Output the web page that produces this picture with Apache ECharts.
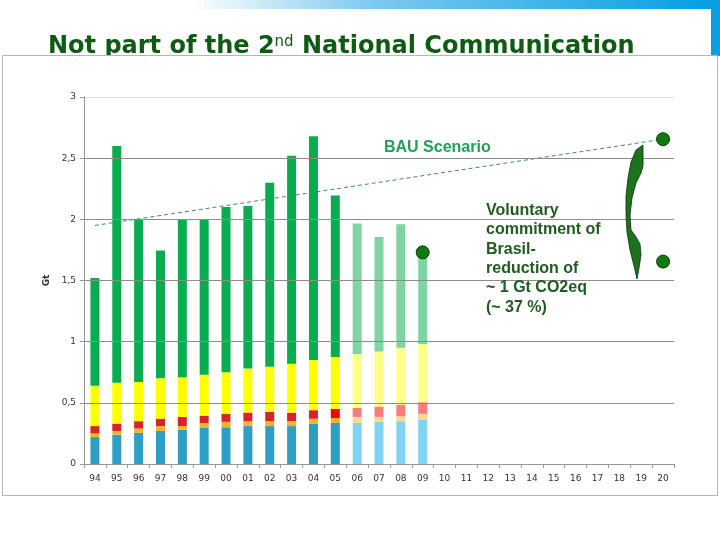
<!DOCTYPE html>
<html><head><meta charset="utf-8">
<script src="https://cdn.jsdelivr.net/npm/echarts@6/dist/echarts.min.js"></script>
<style>html,body{margin:0;padding:0;background:#fff}#c{width:720px;height:540px}</style>
</head><body><div id="c"></div>
<script>
const categories = ['94','95','96','97','98','99','00','01','02','03','04','05','06','07','08','09','10','11','12','13','14','15','16','17','18','19','20'];
const yTicks = [0, 0.5, 1, 1.5, 2, 2.5, 3];
// stacked segment heights (Gt), 1994-2009 (2006-2009 are estimates)
const blueSeg   = [0.22,0.24,0.255,0.27,0.28,0.295,0.30,0.31,0.31,0.31,0.33,0.335,0.335,0.345,0.35,0.36];
const orangeSeg = [0.03,0.03,0.035,0.04,0.03,0.04,0.045,0.04,0.04,0.04,0.04,0.04,0.05,0.04,0.04,0.05];
const redSeg    = [0.06,0.06,0.06,0.06,0.075,0.06,0.065,0.07,0.075,0.07,0.07,0.075,0.075,0.085,0.095,0.095];
const yellowSeg = [0.33,0.335,0.32,0.33,0.325,0.335,0.34,0.36,0.37,0.40,0.41,0.425,0.44,0.45,0.465,0.475];
const greenSeg  = [0.88,1.935,1.33,1.045,1.29,1.27,1.35,1.33,1.505,1.70,1.83,1.32,1.065,0.935,1.01,0.74];
const estimateFrom = '06';
// BAU scenario line endpoints
const bauLine = [['94', 1.95], ['20', 2.655]];
// marker dots
const dots = [['09', 1.73], ['20', 2.655], ['20', 1.655]];

const estIdx = categories.indexOf(estimateFrom);
function seg(name, data, dark, light, special) {
  return {
    name: name, type: 'bar', stack: 'total', barWidth: 9, z: 3,
    data: data.map((v, i) => {
      const o = { value: v };
      if (special && special[i]) o.itemStyle = { color: special[i] };
      return o;
    }),
    itemStyle: { color: p => p.dataIndex >= estIdx ? light : dark }
  };
}
const chart = echarts.init(document.getElementById('c'));
chart.setOption({
  animation: false,
  backgroundColor: '#ffffff',
  grid: { left: 84, right: 46, top: 97, bottom: 76, containLabel: false },
  xAxis: {
    type: 'category', data: categories, boundaryGap: true, z: 4,
    axisLine: { lineStyle: { color: '#999', width: 1 } },
    axisTick: { show: true, alignWithLabel: false, length: 4, lineStyle: { color: '#999' } },
    axisLabel: { color: '#333', fontSize: 9, fontFamily: 'DejaVu Sans', margin: 10, interval: 0 }
  },
  yAxis: {
    type: 'value', min: 0, max: 3, interval: 0.5, z: 4,
    name: 'Gt', nameLocation: 'middle', nameGap: 28, nameRotate: 90,
    nameTextStyle: { fontSize: 9, color: '#333', fontWeight: 'bold', fontFamily: 'DejaVu Sans' },
    axisLine: { show: true, lineStyle: { color: '#999' } },
    axisTick: { show: true, length: 4, lineStyle: { color: '#999' } },
    axisLabel: { color: '#333', fontSize: 9, fontFamily: 'DejaVu Sans', margin: 8,
      formatter: v => String(v).replace('.', ',') },
    splitLine: { show: true, lineStyle: { color: ['#8c8c8c','#8c8c8c','#8c8c8c','#8c8c8c','#8c8c8c','#8c8c8c','#dddddd'], width: 1 } }
  },
  series: [
    { type: 'line', data: bauLine, z: 2, symbol: 'none', silent: true,
      lineStyle: { color: '#3f8a6a', width: 1, type: [4, 3] } },
    seg('blue', blueSeg, '#2e9fc4', '#80d3f4'),
    seg('orange', orangeSeg, '#f5b324', '#fcd98c'),
    seg('red', redSeg, '#d5242b', '#f77d7d', { 11: '#ff0000' }),
    seg('yellow', yellowSeg, '#ffff00', '#ffff88'),
    seg('green', greenSeg, '#0aac50', '#80d4a4'),
    { type: 'scatter', data: dots, z: 6, symbolSize: 13,
      itemStyle: { color: '#107a10', borderColor: '#0a3f0a', borderWidth: 1, opacity: 1 } }
  ],
  graphic: [
    { type: 'rect', z: -10, shape: { x: 190, y: 0, width: 530, height: 9 },
      style: { fill: new echarts.graphic.LinearGradient(0, 0, 1, 0, [
        { offset: 0, color: '#ffffff' }, { offset: 0.35, color: '#7cc8ef' }, { offset: 1, color: '#009fe3' }]) } },
    { type: 'rect', z: -10, shape: { x: 711, y: 0, width: 9, height: 56 }, style: { fill: '#0a9fe2' } },
    { type: 'text', z: -9, x: 48, y: 33,
      style: { text: '{b|Not part of the 2}{s|nd}{b| National Communication}',
        rich: {
          b: { fontSize: 24, fontWeight: 'bold', fontFamily: 'DejaVu Sans', fill: '#0d5c12', lineHeight: 28 },
          s: { fontSize: 15, fontFamily: 'DejaVu Sans', fill: '#0d5c12', lineHeight: 28, padding: [0, 0, 9, 0] }
        } } },
    { type: 'rect', z: -5, shape: { x: 2.5, y: 55.5, width: 715, height: 440 },
      style: { fill: '#ffffff', stroke: '#b5b5b5', lineWidth: 1 } },
    { type: 'text', z: 10, x: 384, y: 140,
      style: { text: 'BAU Scenario', fontSize: 16, fontWeight: 'bold', fontFamily: 'Liberation Sans', fill: '#22a058' } },
    { type: 'text', z: 10, x: 486, y: 201,
      style: { text: 'Voluntary\ncommitment of\nBrasil-\nreduction of\n~ 1 Gt CO2eq\n(~ 37 %)',
        fontSize: 16, fontWeight: 'bold', lineHeight: 19.3, fontFamily: 'Liberation Sans', fill: '#1f5c1f' } },
    { type: 'polygon', z: 10,
      shape: { points: [[643,145],[636,150],[631,162],[628,178],[626,196],[626,215],[627,232],[630,250],[634,266],[637,279],[639,268],[641,255],[640,244],[636,237],[631,230],[630,215],[632,198],[636,183],[641,173],[643,166]] },
      style: { fill: '#1b731b', stroke: '#0b2f0b', lineWidth: 0.8 } }
  ]
});
</script></body></html>
